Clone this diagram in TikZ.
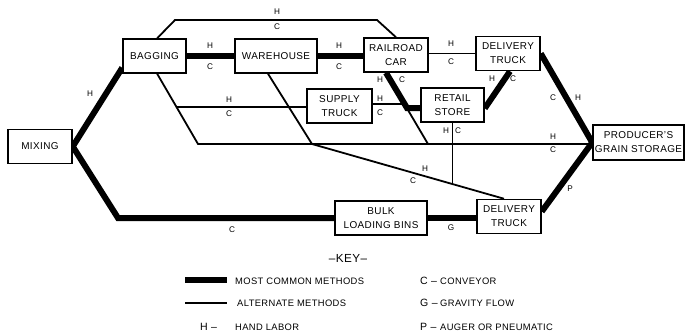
\documentclass[tikz,border=0pt]{standalone}
\usepackage{fontspec}
\setmainfont[LetterSpace=4]{Liberation Sans}
\usetikzlibrary{backgrounds}
\newcommand\pxu{0.3mm}

\begin{document}
\begin{tikzpicture}[x=0.3mm, y=-0.3mm,
    stage/.style={draw, line width=1.5*\pxu, fill=white, inner sep=0pt, align=center,
      minimum height=34*\pxu, font=\fontsize{8.5}{12}\selectfont},
    heavy/.style={line width=6*\pxu},
    light/.style={line width=1.8*\pxu},
    lbl/.style={inner sep=0pt, font=\fontsize{7}{8}\selectfont},
    keytxt/.style={anchor=west, inner sep=0pt, font=\fontsize{8}{9}\selectfont},
    keyltr/.style={anchor=west, inner sep=0pt, font=\fontsize{9}{10}\selectfont}]
  \useasboundingbox (0,0) rectangle (686,336);

  \node[stage, minimum width=64*\pxu] (mix) at (40,146.5) {MIXING};
  \node[stage, minimum width=63*\pxu] (bag) at (154.5,56) {BAGGING};
  \node[stage, minimum width=82*\pxu] (ware) at (276,56) {WAREHOUSE};
  \node[stage, minimum width=64*\pxu] (rail) at (396,55) {RAILROAD\\CAR};
  \node[stage, minimum width=64*\pxu] (dtop) at (508,53.5) {DELIVERY\\TRUCK};
  \node[stage, minimum width=65*\pxu] (supply) at (339.5,106) {SUPPLY\\TRUCK};
  \node[stage, minimum width=63*\pxu] (retail) at (452.5,105) {RETAIL\\STORE};
  \node[stage, minimum width=91*\pxu, minimum height=35*\pxu] (prod) at (638.5,142.5) {PRODUCER'S\\GRAIN STORAGE};
  \node[stage, minimum width=92*\pxu] (bulk) at (381,218) {BULK\\LOADING BINS};
  \node[stage, minimum width=64*\pxu] (dbot) at (509,216.5) {DELIVERY\\TRUCK};

  \coordinate (mixK) at (118,218);
  \coordinate (topL) at (175,20);
  \coordinate (topR) at (377,20);
  \coordinate (bagK) at (198,144);
  \coordinate (bagB) at (176.7,107);
  \coordinate (wareK) at (312,144);
  \coordinate (railK) at (407,108);
  \coordinate (railB) at (428,144);
  \coordinate (retB) at (452.5,184.3);

  \begin{scope}[on background layer]
    \draw[heavy] ([yshift=1.8mm]bag.south west) -- (mix.east) -- (mixK) -- (mixK -| bulk.west);
    \draw[heavy] (bag.east) -- (ware.west);
    \draw[heavy] (ware.east) -- (ware.east -| rail.west);
    \draw[heavy] ([xshift=-3mm]rail.south) -- (railK) -- (railK -| retail.west);
    \draw[heavy] ([yshift=-1mm]retail.east) -- ([xshift=0.6mm]dtop.south);
    \draw[heavy] (dtop.east) -- (prod.west) -- ([yshift=1.5mm]dbot.east);
    \draw[heavy] (bulk.east) -- (bulk.east -| dbot.west);

    \draw[light] ([xshift=0.8mm]bag.north) -- (topL) -- (topR) -- (rail.north);
    \draw[light] ([xshift=0.8mm]bag.south) -- (bagK) -- (bagK -| prod.west);
    \draw[light] (bagB) -- (bagB -| supply.west);
    \draw[light] ([yshift=0.6mm]supply.east) -- ([yshift=0.6mm]supply.east -| railK);
    \draw[light] ([xshift=-3mm]rail.south) -- (railB);
    \draw[light] (rail.east |- dtop.west) -- (dtop.west);
    \draw[light] ([xshift=-2.4mm]ware.south) -- (wareK) -- ([xshift=-1.5mm]dbot.north);
    \draw[light] (retail.south) -- (retB);
  \end{scope}

  \foreach \t/\x/\y [count=\i] in {H/210/46, C/210/67, H/339/46, C/339/67, H/451/44, C/451/62,
      H/277/12, C/277/27, H/90/94, C/232/230, H/229/100, C/229/114, H/380/99, C/380/113,
      H/380/80, C/402/80, H/446/131, C/458/131, H/492/79, C/513/79, C/553/98, H/578/98,
      H/553/137, C/553/150, H/425/169, C/413/181, P/570/189, G/451/228}
    \node[lbl] (lbl\i) at (\x,\y) {\t};

  \node[inner sep=0pt, font=\fontsize{10}{12}\selectfont] (keyttl) at (348,258) {–KEY–};
  \draw[heavy] (185,280) -- (227,280);
  \draw[light] (185,303) -- (227,303);
  \node[keytxt] (keymost) at (235,281) {MOST COMMON METHODS};
  \node[keytxt] (keyalt) at (237,303) {ALTERNATE METHODS};
  \node[keyltr] (keyH) at (200,327) {H –};
  \node[keytxt] (keytH) at (235,327) {HAND LABOR};
  \foreach \k/\t/\y in {C/CONVEYOR/281, G/GRAVITY FLOW/303, P/AUGER OR PNEUMATIC/327} {
    \node[keyltr] (key\k) at (420,\y) {\k\ –};
    \node[keytxt] (keyt\k) at (440,\y) {\t};
  }
\end{tikzpicture}
\end{document}
